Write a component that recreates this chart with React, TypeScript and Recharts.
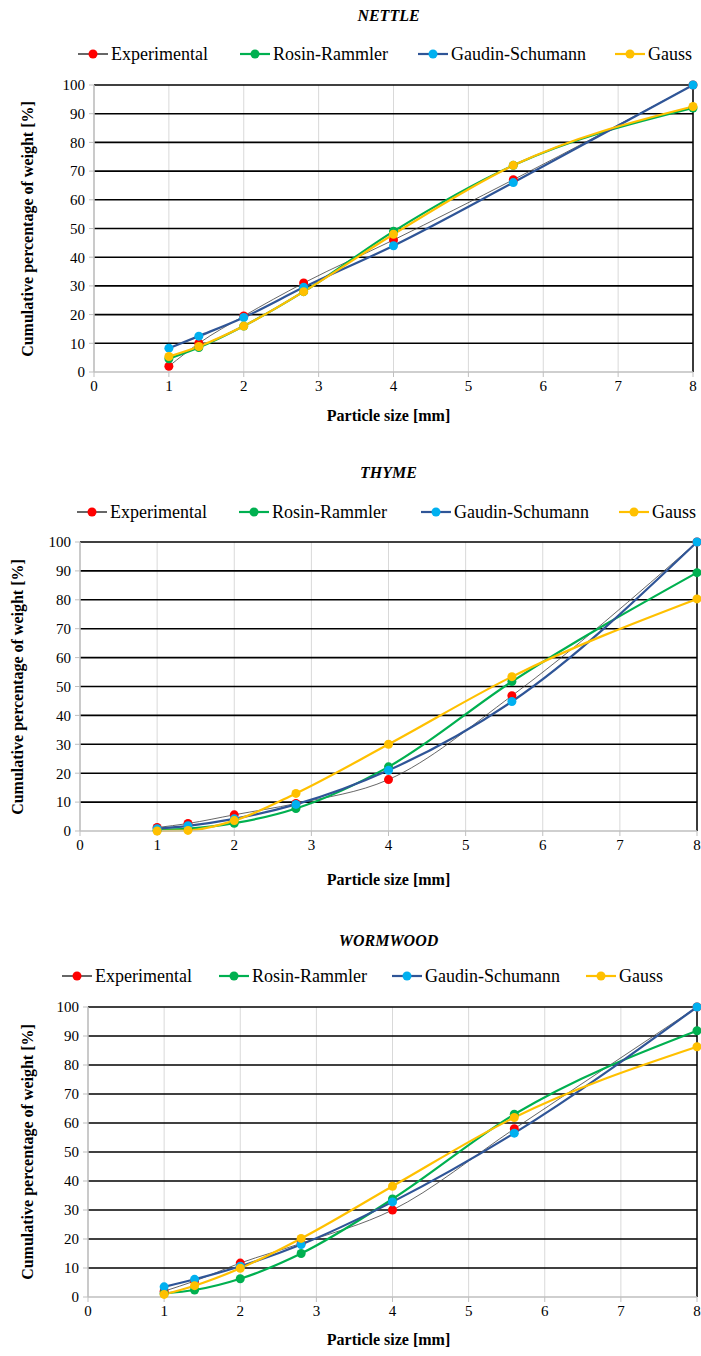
import React from 'react';
import { LineChart, Line, XAxis, YAxis, CartesianGrid, ReferenceLine } from 'recharts';

const sizes = [1, 1.4, 2, 2.8, 4, 5.6, 8];
const xTicks = [0, 1, 2, 3, 4, 5, 6, 7, 8];
const yTicks = [0, 10, 20, 30, 40, 50, 60, 70, 80, 90, 100];
const seriesNames = ['Experimental', 'Rosin-Rammler', 'Gaudin-Schumann', 'Gauss'];

const nettleExp = [2, 10, 19.5, 31, 46, 67, 100];
const nettleRR = [4.6, 8.5, 16, 28, 49, 72, 92];
const nettleGS = [8.3, 12.5, 19, 29.5, 44, 66, 100];
const nettleGa = [5.4, 8.9, 16, 28, 48, 72, 92.5];

const thymeExp = [1.2, 2.6, 5.6, 9.5, 17.8, 46.8, 100];
const thymeRR = [0.3, 0.8, 2.7, 7.8, 22.2, 51.7, 89.4];
const thymeGS = [0.8, 1.8, 4.2, 9.2, 21, 44.8, 100];
const thymeGa = [0, 0.2, 3.6, 13, 30, 53.4, 80.3];

const wormExp = [2, 5.5, 11.7, 18.5, 30, 58, 100];
const wormRR = [1.2, 2.4, 6.3, 15, 33.8, 63, 91.8];
const wormGS = [3.5, 6.1, 10.6, 18.1, 32.8, 56.5, 100];
const wormGa = [0.9, 3.9, 9.9, 20.2, 38.2, 61.9, 86.3];

const RED = '#FF0000';
const GREEN = '#00B050';
const LBLUE = '#00B0F0';
const DBLUE = '#2F5597';
const YELLOW = '#FFC000';
const FONT = '"Liberation Serif", Tinos, "DejaVu Serif", serif';

function build(exp: number[], rr: number[], gs: number[], ga: number[]) {
  return sizes.map((x, i) => ({ x, exp: exp[i], rr: rr[i], gs: gs[i], ga: ga[i] }));
}

type PanelProps = {
  title: string;
  data: any[];
  pl: number; pr: number; pt: number; pb: number;
  titleY: number;
  legendY: number;
  legendX: number[];
  ylabX: number;
  xlabY: number;
};

const legendStyles = [
  { line: '#000', dot: RED },
  { line: GREEN, dot: GREEN },
  { line: DBLUE, dot: LBLUE },
  { line: YELLOW, dot: YELLOW },
];

function Panel(p: PanelProps) {
  const topPad = 20;
  const xAxisH = 40;
  const h = (p.pb - p.pt) + topPad + xAxisH;
  const tickStyle = { fontFamily: FONT, fontSize: 15, fill: '#000' };
  return (
    <>
      <div style={{ position: 'absolute', left: 0, width: 701, top: p.titleY - 10, textAlign: 'center', fontFamily: FONT, fontWeight: 'bold', fontStyle: 'italic', fontSize: 16, lineHeight: '20px' }}>
        <span style={{ position: 'relative', left: 38 }}>{p.title}</span>
      </div>
      {seriesNames.map((n, i) => (
        <div key={n} style={{ position: 'absolute', left: p.legendX[i], top: p.legendY - 11, height: 22, display: 'flex', alignItems: 'center', fontFamily: FONT, fontSize: 18, whiteSpace: 'nowrap' }}>
          <svg width={30} height={12} style={{ marginRight: 3 }}>
            <line x1={0} y1={6} x2={30} y2={6} stroke={legendStyles[i].line} strokeWidth={i === 0 ? 1.2 : 2.2} />
            <circle cx={15} cy={6} r={4.5} fill={legendStyles[i].dot} />
          </svg>
          <span>{n}</span>
        </div>
      ))}
      <div style={{ position: 'absolute', left: p.ylabX, top: (p.pt + p.pb) / 2, transform: 'translate(-50%, -50%) rotate(-90deg)', fontFamily: FONT, fontWeight: 'bold', fontSize: 16, whiteSpace: 'nowrap' }}>
        Cumulative percentage of weight [%]
      </div>
      <div style={{ position: 'absolute', left: 0, width: 701, top: p.xlabY - 10, textAlign: 'center', fontFamily: FONT, fontWeight: 'bold', fontSize: 16, lineHeight: '20px' }}>
        <span style={{ position: 'relative', left: 38 }}>Particle size [mm]</span>
      </div>
      <div style={{ position: 'absolute', left: 0, top: p.pt - topPad }}>
        <LineChart width={701} height={h} data={p.data} margin={{ top: topPad, right: 701 - p.pr, bottom: 0, left: 0 }}>
          <CartesianGrid stroke="#d9d9d9" vertical={true} horizontal={false} />
          <XAxis dataKey="x" type="number" domain={[0, 8]} ticks={xTicks} height={xAxisH} tick={tickStyle} tickLine={{ stroke: '#bfbfbf' }} axisLine={{ stroke: '#bfbfbf', strokeWidth: 1.5 }} tickSize={5} tickMargin={3} interval={0} />
          <YAxis type="number" domain={[0, 100]} ticks={yTicks} width={p.pl} tick={tickStyle} tickLine={{ stroke: '#bfbfbf' }} axisLine={{ stroke: '#bfbfbf', strokeWidth: 1.5 }} tickSize={5} tickMargin={4} interval={0} />
          {yTicks.filter((t) => t > 0).map((t) => (
            <ReferenceLine key={t} y={t} stroke="#000" strokeWidth={1.6} />
          ))}
          <ReferenceLine x={8} stroke="#000" strokeWidth={1.5} />
          <Line type="monotone" dataKey="exp" stroke="#404040" strokeWidth={0.8} dot={{ r: 4.5, fill: RED, stroke: RED, strokeWidth: 0 }} isAnimationActive={false} />
          <Line type="monotone" dataKey="rr" stroke={GREEN} strokeWidth={2.2} dot={{ r: 4.5, fill: GREEN, stroke: GREEN, strokeWidth: 0 }} isAnimationActive={false} />
          <Line type="monotone" dataKey="gs" stroke={DBLUE} strokeWidth={2.2} dot={{ r: 4.5, fill: LBLUE, stroke: LBLUE, strokeWidth: 0 }} isAnimationActive={false} />
          <Line type="monotone" dataKey="ga" stroke={YELLOW} strokeWidth={2.2} dot={{ r: 4.5, fill: YELLOW, stroke: YELLOW, strokeWidth: 0 }} isAnimationActive={false} />
        </LineChart>
      </div>
    </>
  );
}

export default function App() {
  return (
    <div style={{ position: 'absolute', left: 0, top: 0, width: 701, height: 1356, background: '#fff', overflow: 'hidden' }}>
      <Panel title="NETTLE" data={build(nettleExp, nettleRR, nettleGS, nettleGa)}
        pl={94} pr={693} pt={85} pb={372} titleY={16} legendY={54} legendX={[78, 240, 418, 615]} ylabX={28} xlabY={416} />
      <Panel title="THYME" data={build(thymeExp, thymeRR, thymeGS, thymeGa)}
        pl={80} pr={697} pt={542} pb={831} titleY={473} legendY={512} legendX={[77, 239, 421, 619]} ylabX={18} xlabY={880} />
      <Panel title="WORMWOOD" data={build(wormExp, wormRR, wormGS, wormGa)}
        pl={88} pr={697} pt={1007} pb={1297} titleY={941} legendY={976} legendX={[62, 219, 392, 586]} ylabX={28} xlabY={1340} />
    </div>
  );
}
